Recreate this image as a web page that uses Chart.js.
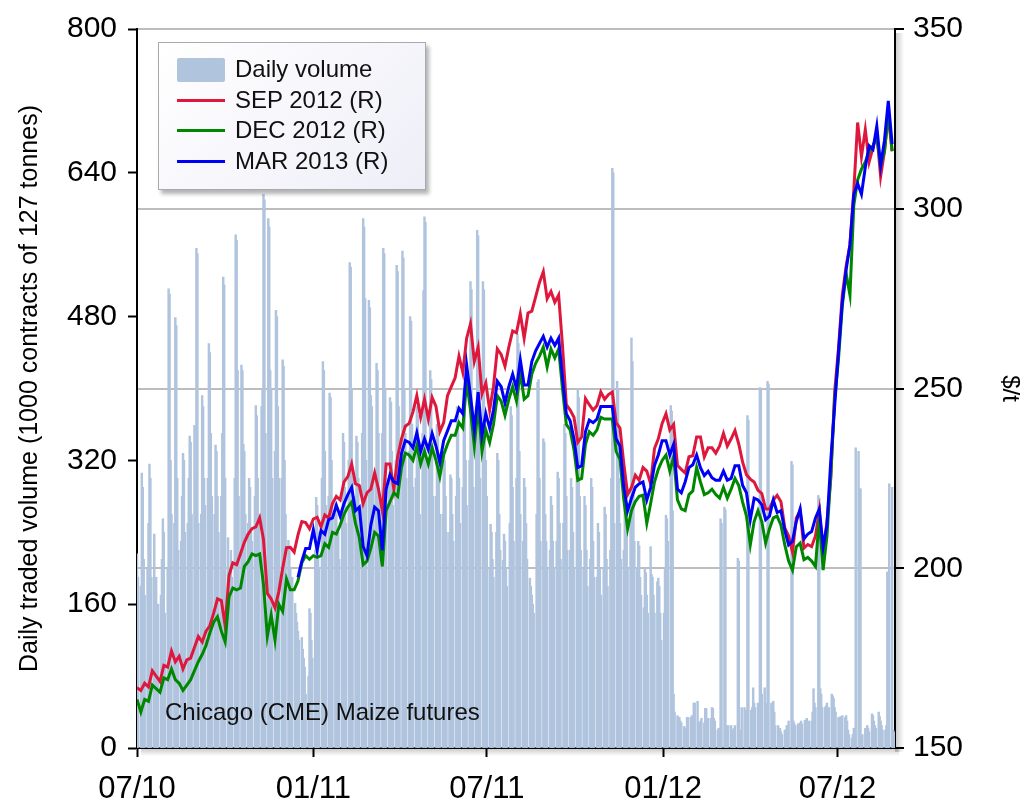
<!DOCTYPE html>
<html>
<head>
<meta charset="utf-8">
<title>Chicago (CME) Maize futures</title>
<script src="https://cdn.jsdelivr.net/npm/chart.js@4/dist/chart.umd.min.js"></script>
<style>
  body { margin: 0; background: #fff; font-family: 'Liberation Sans', Arial, sans-serif; }
  #wrap { position: relative; width: 1025px; height: 803px; }
  #chart { position: absolute; left: 0; top: 0; }
  #legend {
    position: absolute; left: 158px; top: 42px; width: 268px; height: 148px;
    box-sizing: border-box; border: 1px solid #a9a9b0;
    background: linear-gradient(135deg, #ffffff 0%, #eeeef8 100%);
    box-shadow: 3px 4px 4px rgba(0, 0, 0, 0.3);
  }
  .row { position: absolute; left: 0; height: 30px; width: 100%; }
  .row .sw { position: absolute; left: 18px; width: 48px; }
  .row .tx { position: absolute; left: 76px; top: 0; font-size: 24px; line-height: 30px; color: #111; white-space: nowrap; }
  #note { position: absolute; left: 165px; top: 697px; font-size: 24px; line-height: 30px; color: #111; white-space: nowrap; }
</style>
</head>
<body>
<div id="wrap">
  <canvas id="chart" width="1025" height="803"></canvas>
  <div id="legend"></div>
  <div id="note">Chicago (CME) Maize futures</div>
</div>
<script>
// --- data ---
const tickDates = ['2010-07-01', '2011-01-01', '2011-07-01', '2012-01-01', '2012-07-01'];
const tickLabels = ['07/10', '01/11', '07/11', '01/12', '07/12'];
const lastDate = '2012-08-30';

const seriesNames = ['Daily volume', 'SEP 2012 (R)', 'DEC 2012 (R)', 'MAR 2013 (R)'];

// daily volume, 1000 contracts, one value per trading day from 1 Jul 2010 (rows = weeks)
const volume = [
  216, 190,
  180, 306, 290, 210, 170,
  200, 250, 316, 300, 190,
  238, 140, 190, 150, 160,
  170, 210, 255, 240, 150,
  200, 511, 505, 320, 260,
  250, 479, 470, 300, 220,
  230, 280, 328, 320, 240,
  250, 300, 347, 340, 260,
  359, 300, 556, 550, 250,
  260, 392, 380, 300, 270,
  300, 450, 440, 350, 280,
  260, 337, 330, 280, 240,
  280, 350, 524, 515, 300,
  234, 200, 180, 220, 190,
  300, 571, 565, 420, 280,
  426, 420, 338, 330, 260,
  250, 300, 290, 240, 230,
  280, 381, 370, 300, 260,
  380, 400, 616, 610, 350,
  589, 580, 420, 400, 300,
  330, 487, 480, 380, 300,
  300, 432, 425, 320, 260,
  231, 220, 200, 180, 190,
  161, 150, 140, 130, 120,
  123, 110, 100, 90, 60,
  80, 155, 150, 120, 100,
  220, 279, 270, 240, 200,
  300, 430, 420, 330, 270,
  280, 395, 390, 320, 260,
  272, 260, 230, 240, 210,
  260, 350, 340, 290, 250,
  320, 540, 535, 400, 300,
  280, 347, 340, 300, 260,
  350, 589, 580, 500, 320,
  498, 490, 392, 380, 300,
  300, 428, 420, 350, 280,
  350, 556, 550, 400, 300,
  290, 390, 385, 330, 270,
  320, 537, 530, 380, 300,
  553, 545, 400, 350, 300,
  330, 480, 475, 360, 290,
  300, 380, 370, 320, 260,
  350, 509, 591, 585, 320,
  320, 420, 410, 340, 280,
  280, 360, 350, 300, 260,
  260, 330, 320, 280, 240,
  240, 304, 300, 260, 230,
  280, 380, 370, 300, 250,
  290, 400, 390, 320, 270,
  320, 519, 510, 380, 290,
  360, 576, 570, 420, 300,
  519, 510, 380, 320, 280,
  200, 249, 240, 210, 190,
  240, 328, 320, 260, 220,
  209, 238, 230, 200, 180,
  250, 380, 370, 290, 230,
  300, 460, 450, 330, 260,
  230, 300, 290, 250, 210,
  189, 180, 170, 160, 150,
  260, 407, 410, 300, 230,
  344, 340, 260, 230, 200,
  220, 280, 270, 230, 200,
  230, 307, 300, 250, 210,
  250, 360, 350, 280, 220,
  220, 300, 290, 240, 200,
  358, 400, 390, 280, 220,
  200, 280, 270, 220, 180,
  210, 300, 290, 230, 190,
  190, 250, 240, 200, 170,
  200, 268, 260, 210, 180,
  220, 300, 645, 640, 250,
  408, 400, 300, 250, 210,
  220, 300, 290, 240, 200,
  280, 456, 430, 300, 230,
  200, 230, 225, 190, 170,
  156, 200, 195, 170, 150,
  224, 193, 190, 170, 150,
  185, 189, 180, 150, 120,
  150, 200, 259, 255, 230,
  381, 375, 264, 60, 40,
  36, 34, 34, 30, 28,
  24, 22, 22, 34, 34,
  34, 36, 30, 50, 50,
  52, 28, 28, 30, 33,
  28, 44, 44, 30, 33,
  33, 45, 44, 33, 30,
  20, 22, 18, 255, 250,
  268, 265, 25, 22, 25,
  25, 20, 18, 22, 25,
  211, 208, 18, 20, 45,
  45, 40, 42, 370, 365,
  42, 45, 67, 50, 45,
  50, 42, 401, 398, 60,
  67, 50, 45, 408, 405,
  50, 48, 52, 40, 25,
  25, 20, 22, 18, 15,
  20, 18, 25, 22, 30,
  319, 315, 30, 27, 25,
  27, 25, 28, 30, 27,
  31, 30, 33, 28, 30,
  30, 40, 66, 50, 45,
  281, 278, 66, 60, 45,
  45, 47, 50, 40, 45,
  60, 58, 55, 45, 40,
  34, 33, 35, 34, 36,
  34, 36, 30, 20, 15,
  11, 15, 22, 20, 334,
  330, 289, 288, 11, 15,
  22, 20, 25, 22, 18,
  38, 36, 30, 25, 22,
  40, 35, 30, 25, 20,
  20, 25, 196, 192, 294,
  290, 20, 18, 15, 12
];

// prices in $/t, one reading every 4 calendar days from 1 Jul 2010
const priceStepDays = 4;
const sep2012 = [
  166.8, 166, 168, 167, 171.5, 170, 168.5, 173, 172.5, 177,
  174, 175.5, 172, 174.5, 175, 178, 181, 179.5, 182.5, 184,
  187.5, 191.5, 191, 184, 198, 201.5, 201, 204, 207.2, 209.5,
  211, 211.5, 214, 208, 193, 191.5, 189, 193.5, 200, 205.7,
  205.8, 204.5, 209.3, 213, 212.7, 211, 213.7, 214.2, 211.5, 214.8,
  214, 218, 220, 219, 224, 225.5, 229, 223.5, 223, 218,
  221, 222, 226.5, 222, 216, 229, 229, 222, 231, 236,
  239.5, 240.3, 243.5, 248, 242, 247, 241.5, 247.5, 245, 238,
  240.5, 248, 250.5, 253, 259, 254.5, 264, 268, 257.5, 261.5,
  248.5, 251.5, 244, 250.5, 261, 259.5, 256.2, 261.5, 266, 265.5,
  270.8, 264, 271, 271.5, 275.5, 279.5, 282.5, 275, 277, 274,
  276, 262, 245.5, 244, 242, 235, 236.5, 247.2, 245.5, 244,
  245.2, 249, 247, 248.3, 249, 240.5, 239, 229, 220.5, 222.5,
  225.9, 224.5, 228, 227, 223.5, 233.3, 236, 240.3, 243, 238.5,
  240, 228.6, 227.5, 226.5, 231, 231.3, 236.5, 236.5, 231, 233.5,
  233.5, 232, 234, 237.5, 234, 236, 238.3, 234.5, 229.5, 226,
  224.8, 224, 221.7, 220.8, 216.5, 216.5, 219, 220.3, 218.5, 211.2,
  209, 204.5, 214, 216, 205.6, 206.6, 206, 209, 216, 204,
  213, 225, 249, 261, 276, 284, 290, 305, 324, 314.5,
  322, 313, 317, 321, 309, 316, 326, 316
];
const dec2012 = [
  163.5, 160, 163.5, 163, 167.5, 166.5, 165.5, 169.5, 169, 172,
  169, 168, 166, 167.5, 169, 171.5, 174, 176, 178.5, 182,
  185, 186.5, 182.5, 179.5, 192, 194.5, 194, 194.5, 200.5, 201.8,
  204, 203.5, 204, 195.5, 181, 187, 180, 190, 188, 197,
  194, 194, 196.5, 201.5, 203.5, 202.5, 203.5, 203, 203.5, 206.8,
  205.8, 210, 209.5, 212, 215, 217, 218.4, 212.5, 208.5, 201,
  202, 205.5, 210, 209, 200.5, 216, 218.5, 221, 220, 228,
  232, 231.5, 230, 234, 229, 232.5, 229, 233.5, 230, 225.5,
  231.5, 234.5, 237, 237, 240.5, 239, 252, 244, 234, 245,
  232.5, 238.5, 235, 240, 248, 246.5, 242.5, 247, 250.5, 246.5,
  254.5, 247, 248, 254, 257, 259, 261.5, 256, 261, 258.5,
  261, 250, 240, 238.5, 233, 224.5, 225, 234.5, 238, 237,
  238.5, 242, 241.5, 241.5, 241.5, 232.5, 230.3, 219, 211, 216,
  218.5, 220, 220.3, 212.5, 218, 224, 227.5, 230, 231.5, 227,
  231, 219, 216.5, 216, 220.5, 221.5, 228, 224, 220.5, 221,
  222, 220.5, 219.5, 222.5, 219.5, 222, 225, 223, 218.4, 214.5,
  206.5, 213, 216, 213, 207, 211, 214, 214.5, 212, 206.5,
  202, 199.5, 206, 207, 202.4, 203, 202, 200.5, 214, 199.5,
  209, 226, 247, 258, 273, 282, 276, 301, 308, 311,
  313, 316, 317.5, 320, 312, 316, 327, 316
];
// MAR 2013 starts trading later: first reading is the 43rd 4-day step
const marFirstStep = 42;
const mar2013 = [
  197.5, 202, 205.5, 205.5, 210.7, 205, 210.5, 209.5,
  213.5, 214, 217.5, 214.5, 218, 220.5, 222.5, 216, 217, 206,
  203.5, 212, 217, 216, 205, 222, 226, 224, 223.5, 232,
  235.5, 235, 233.5, 237.7, 232.5, 236, 233, 237.5, 234, 229.5,
  235.5, 238.2, 241, 241, 244.5, 243, 256.5, 248, 238.5, 249,
  237, 243, 239, 244, 252, 250.5, 246, 250.5, 254, 250,
  258, 251, 251, 257.5, 260.5, 262.5, 264.5, 261.5, 264, 262,
  264, 253, 243, 241, 236, 228, 228.5, 238, 241.2, 240.5,
  241.5, 245, 245, 245, 245, 236, 234, 222.5, 216, 219.5,
  222.5, 223.5, 224, 219, 222.5, 228.6, 231.5, 235.5, 235.5, 231.5,
  234.5, 222, 221, 224, 228, 228.8, 231.5, 228, 225.8, 227,
  225.2, 224.5, 224.5, 227, 224.5, 225, 228.5, 228.5, 223, 221,
  213.5, 219.5, 219, 217.7, 213.5, 214.5, 219, 215.5, 216, 210.5,
  206.5, 207.5, 213, 216.5, 208.2, 209.5, 210.2, 214, 216.5, 206,
  212, 230, 245, 260, 274, 283, 290, 304, 307, 304,
  311.5, 317.5, 316.5, 323, 312, 319, 330, 318
];

const volColor = 'rgb(176, 196, 222)';
const sepColor = 'rgb(222, 24, 60)';
const decColor = 'rgb(0, 135, 0)';
const marColor = 'rgb(0, 0, 245)';

// --- helpers ---
const DAY_MS = 86400000;
const START = Date.UTC(2010, 6, 1);
const dayOf = s => Math.round((Date.parse(s + 'T00:00:00Z') - START) / DAY_MS);

const tickDays = tickDates.map(dayOf);

const tradingDays = [];
for (let d = 0; tradingDays.length < volume.length; d++) {
    const wd = new Date(START + d * DAY_MS).getUTCDay();
    if (wd !== 0 && wd !== 6) tradingDays.push(d);
}

const volumePoints = volume.map((v, i) => ({ x: tradingDays[i], y: v }));
const sepPoints = sep2012.map((p, i) => ({ x: i * priceStepDays, y: p }));
const decPoints = dec2012.map((p, i) => ({ x: i * priceStepDays, y: p }));
const marPoints = mar2013.map((p, i) => ({ x: (i + marFirstStep) * priceStepDays, y: p }));

// legend box drawn as html
const legendEl = document.getElementById('legend');
[volColor, sepColor, decColor, marColor].forEach((c, i) => {
    const row = document.createElement('div');
    row.className = 'row';
    row.style.top = (11 + i * 30.5) + 'px';
    const sw = document.createElement('div');
    sw.className = 'sw';
    if (i === 0) {
        sw.style.cssText = 'top:4px;height:24px;border-radius:2px;background:' + c;
    } else {
        sw.style.cssText = 'top:14px;height:3px;background:' + c;
    }
    const tx = document.createElement('div');
    tx.className = 'tx';
    tx.textContent = seriesNames[i];
    row.appendChild(sw);
    row.appendChild(tx);
    legendEl.appendChild(row);
});

// soft shadow along the right and bottom axis lines
const frameShadow = {
    id: 'frameShadow',
    beforeDraw(chart) {
        const { ctx, chartArea: a } = chart;
        ctx.save();
        let g = ctx.createLinearGradient(a.right, 0, a.right + 9, 0);
        g.addColorStop(0, 'rgba(0,0,0,0.22)');
        g.addColorStop(1, 'rgba(0,0,0,0)');
        ctx.fillStyle = g;
        ctx.fillRect(a.right, a.top + 4, 9, a.bottom - a.top);
        g = ctx.createLinearGradient(0, a.bottom, 0, a.bottom + 8);
        g.addColorStop(0, 'rgba(0,0,0,0.22)');
        g.addColorStop(1, 'rgba(0,0,0,0)');
        ctx.fillStyle = g;
        ctx.fillRect(a.left + 4, a.bottom, a.right - a.left, 8);
        ctx.restore();
    }
};

Chart.defaults.font.family = "'Liberation Sans', Arial, sans-serif";
Chart.defaults.color = '#000';

const tickFont = { size: 30 };

new Chart(document.getElementById('chart'), {
    type: 'line',
    data: {
        datasets: [
            { type: 'bar', label: seriesNames[0], data: volumePoints, yAxisID: 'y', backgroundColor: volColor, borderWidth: 0, barThickness: 1.8, order: 4 },
            { type: 'line', label: seriesNames[1], data: sepPoints, yAxisID: 'y1', borderColor: sepColor, borderWidth: 3, pointRadius: 0, tension: 0, fill: false, order: 3 },
            { type: 'line', label: seriesNames[2], data: decPoints, yAxisID: 'y1', borderColor: decColor, borderWidth: 3, pointRadius: 0, tension: 0, fill: false, order: 2 },
            { type: 'line', label: seriesNames[3], data: marPoints, yAxisID: 'y1', borderColor: marColor, borderWidth: 3, pointRadius: 0, tension: 0, fill: false, order: 1 }
        ]
    },
    options: {
        responsive: false,
        animation: false,
        layout: { padding: { top: 23, left: 0, right: 0, bottom: 0 } },
        plugins: {
            legend: { display: false },
            tooltip: { enabled: false }
        },
        scales: {
            x: {
                type: 'linear',
                min: 0,
                max: dayOf(lastDate),
                offset: false,
                afterBuildTicks: scale => { scale.ticks = tickDays.map(v => ({ value: v })); },
                afterFit: scale => { scale.height = 55; },
                ticks: {
                    autoSkip: false,
                    maxRotation: 0,
                    font: { size: 31 },
                    padding: 14,
                    callback: v => tickLabels[tickDays.indexOf(v)] || ''
                },
                grid: { drawOnChartArea: false, offset: false, tickLength: 9, tickWidth: 2, tickColor: '#000', color: '#000' },
                border: { color: '#000', width: 2 }
            },
            y: {
                position: 'left',
                min: 0,
                max: 800,
                afterFit: scale => { scale.width = 137; },
                ticks: { stepSize: 160, font: tickFont, padding: 11 },
                grid: { drawOnChartArea: false, tickLength: 9, tickWidth: 2, tickColor: '#000', color: '#000' },
                border: { color: '#000', width: 2 },
                title: {
                    display: true,
                    text: 'Daily traded volume (1000 contracts of 127 tonnes)',
                    font: { size: 25 },
                    padding: { top: 15, bottom: 0 }
                }
            },
            y1: {
                position: 'right',
                min: 150,
                max: 350,
                afterFit: scale => { scale.width = 130; },
                ticks: { stepSize: 50, font: tickFont, padding: 9 },
                grid: {
                    drawOnChartArea: true,
                    lineWidth: 2,
                    color: ctx => (ctx.tick && ctx.tick.value === 150) ? 'rgba(0,0,0,0)' : '#bdbdbd',
                    tickLength: 9,
                    tickWidth: 2,
                    tickColor: '#000'
                },
                border: { color: '#000', width: 2 },
                title: {
                    display: true,
                    text: '$/t',
                    font: { size: 24 },
                    padding: { top: 1, bottom: 0 }
                }
            }
        }
    },
    plugins: [frameShadow]
});
</script>
</body>
</html>
